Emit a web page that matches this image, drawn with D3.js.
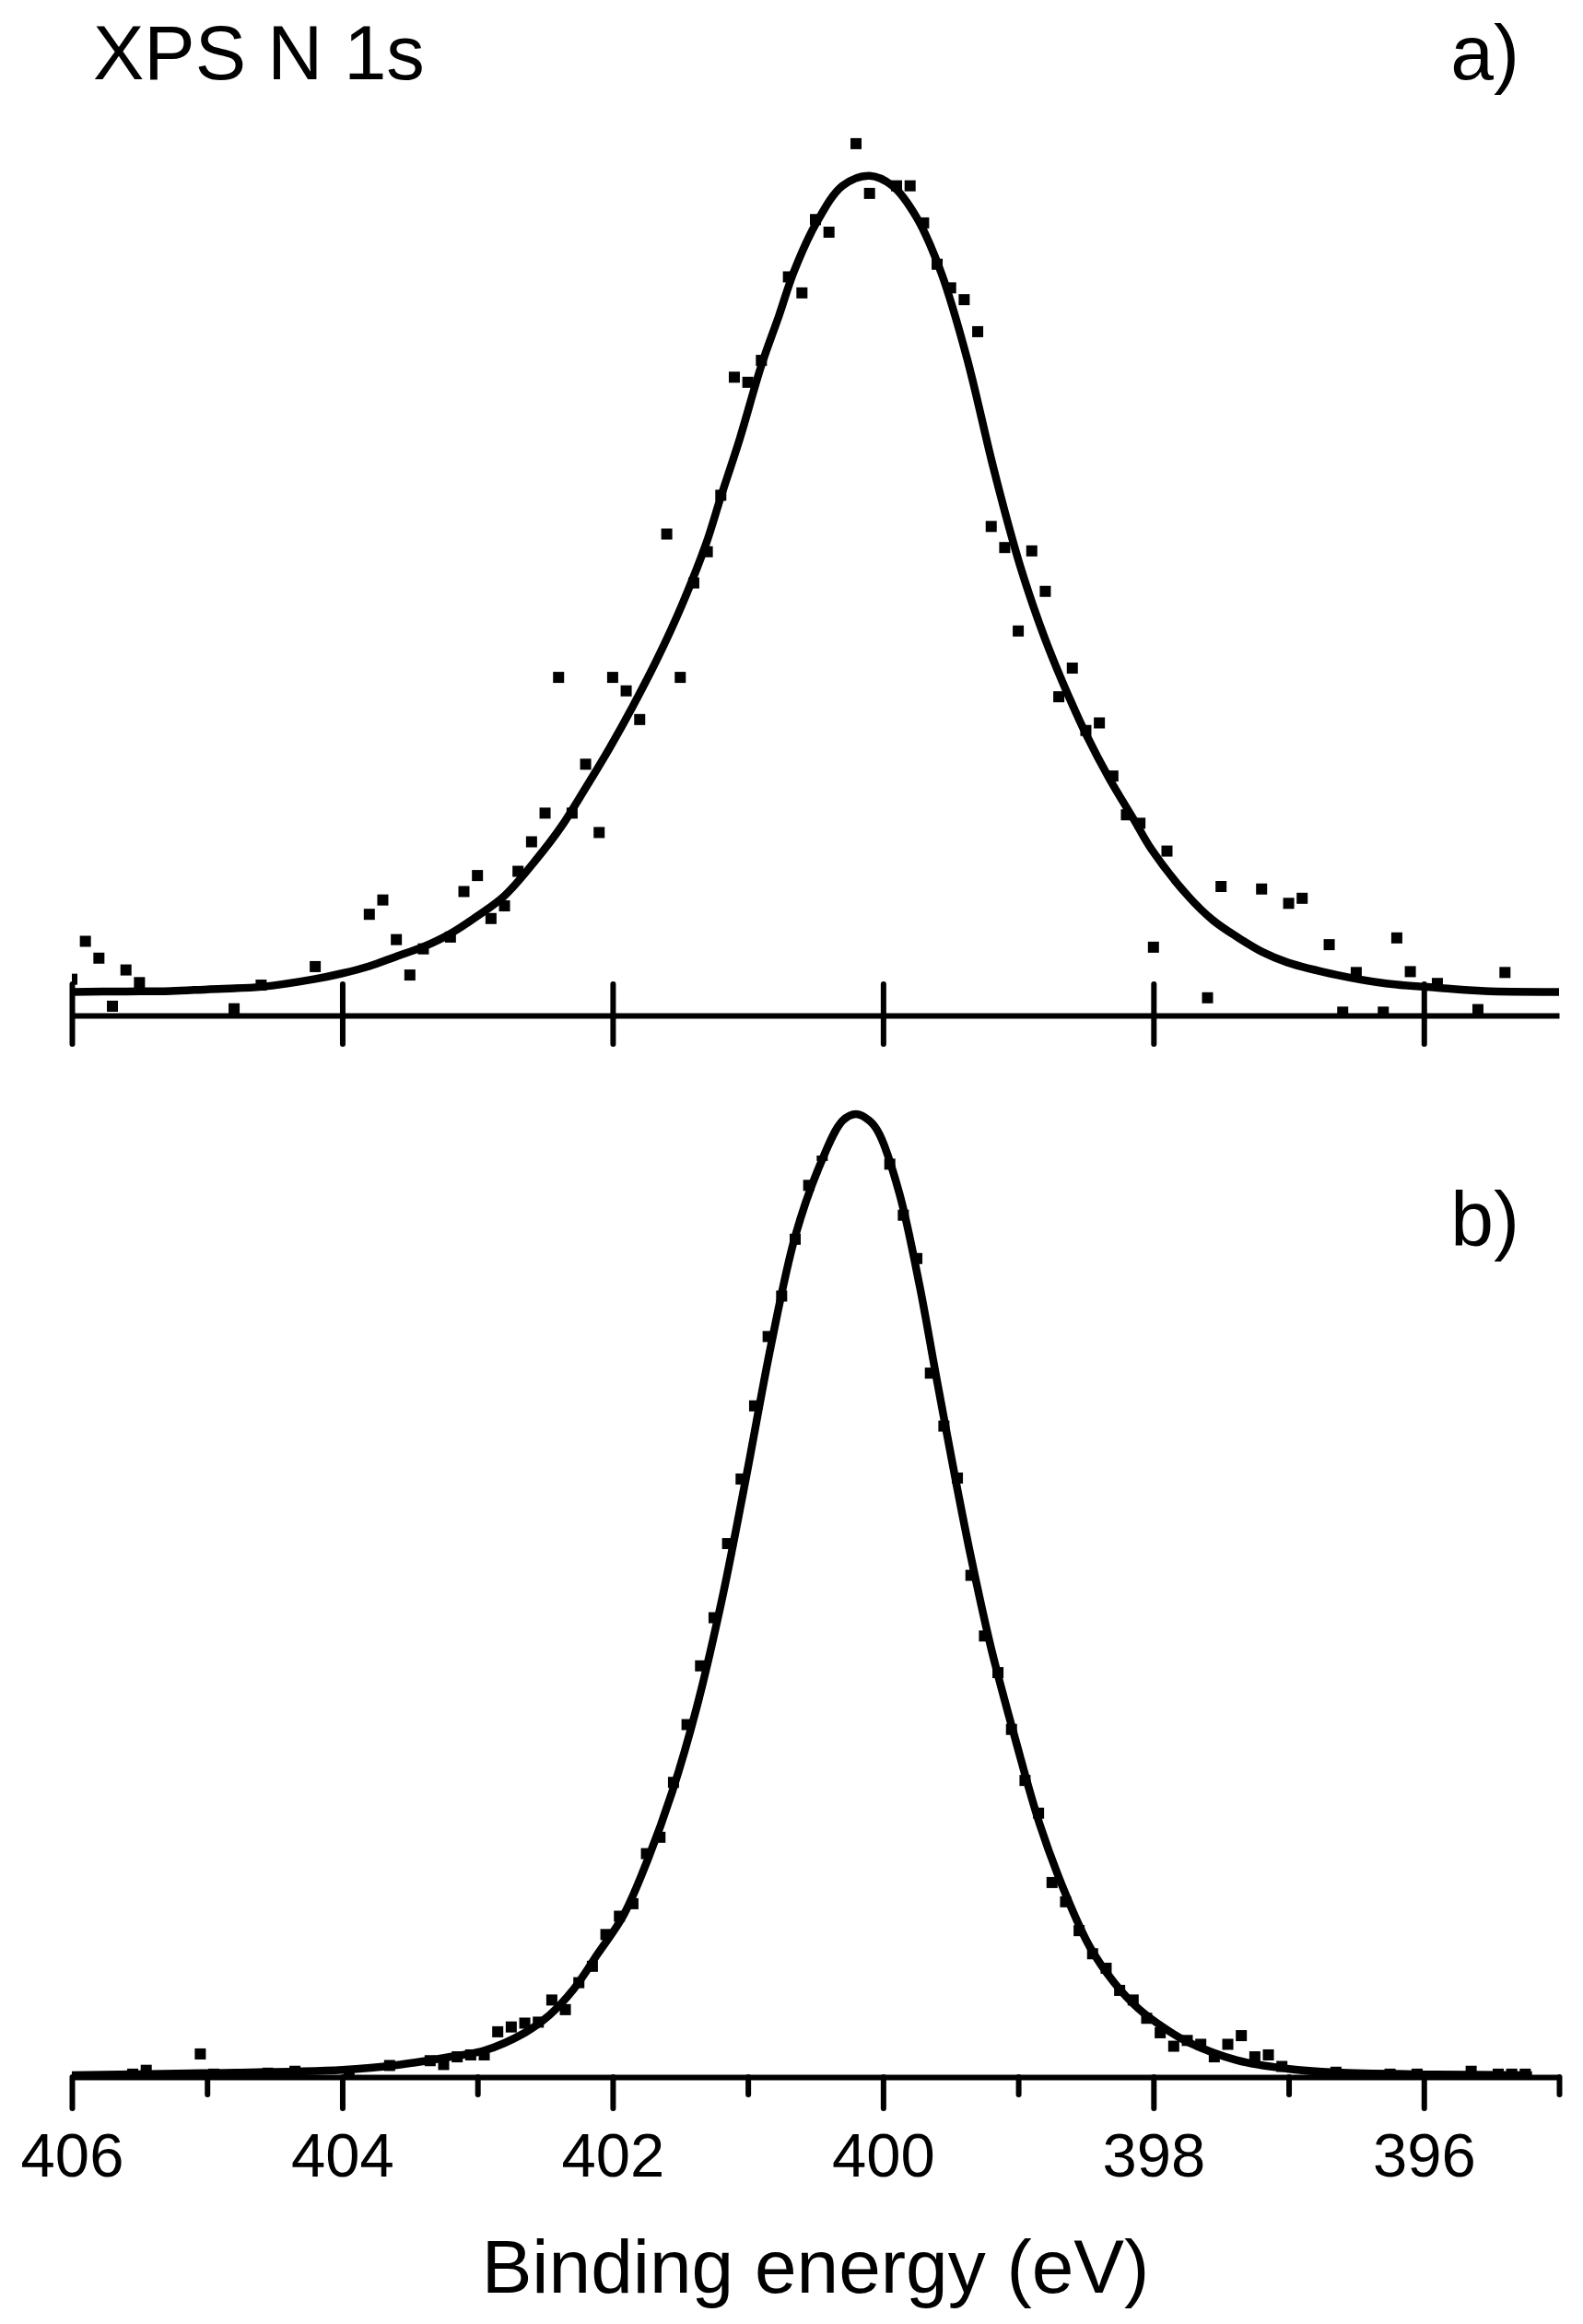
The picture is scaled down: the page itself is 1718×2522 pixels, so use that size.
<!DOCTYPE html>
<html>
<head>
<meta charset="utf-8">
<script src="https://cdn.jsdelivr.net/npm/d3@7"></script>
<style>
  body { margin: 0; background: #fff; }
  svg { display: block; }
  text { font-family: "Liberation Sans", Arial, Helvetica, sans-serif; fill: #000; }
</style>
</head>
<body>
<svg id="chart" width="1718" height="2522"></svg>
<script>
// binding energy (eV), intensity (arb. units, 100 = fitted peak)
const topPoints = [
  [406.0, 4.3], [405.9, 8.8], [405.8, 6.8], [405.7, 1.1], [405.6, 5.4], [405.5, 3.9],
  [404.8, 0.8], [404.6, 3.6], [404.2, 5.8], [403.8, 12.0], [403.7, 13.7], [403.6, 9.0],
  [403.5, 4.8], [403.4, 7.9], [403.2, 9.3], [403.1, 14.7], [403.0, 16.6], [402.9, 11.5],
  [402.8, 13.0], [402.7, 17.1], [402.6, 20.6], [402.5, 24.0], [402.4, 40.1], [402.3, 24.0],
  [402.2, 29.8], [402.1, 21.7], [402.0, 40.1], [401.9, 38.5], [401.8, 35.1], [401.6, 57.1],
  [401.5, 40.1], [401.4, 51.3], [401.3, 55.0], [401.2, 61.7], [401.1, 75.7], [401.0, 75.1],
  [400.9, 77.7], [400.7, 87.6], [400.6, 85.7], [400.5, 94.4], [400.4, 92.9], [400.2, 103.4],
  [400.1, 97.5], [399.9, 98.4], [399.8, 98.4], [399.7, 94.0], [399.6, 89.1], [399.5, 86.3],
  [399.4, 84.9], [399.3, 81.1], [399.2, 58.0], [399.1, 55.5], [399.0, 45.6], [398.9, 55.1],
  [398.8, 50.3], [398.7, 37.8], [398.6, 41.2], [398.5, 33.8], [398.4, 34.7], [398.3, 28.4],
  [398.2, 23.8], [398.1, 22.8], [398.0, 8.1], [397.9, 19.5], [397.6, 2.1], [397.5, 15.3],
  [397.2, 15.0], [397.0, 13.3], [396.9, 13.9], [396.7, 8.4], [396.6, 0.4], [396.5, 5.1],
  [396.3, 0.4], [396.2, 9.2], [396.1, 5.2], [395.9, 3.8], [395.6, 0.7], [395.4, 5.1]
];

const topFit = [
  [406.0, 2.8], [405.6, 2.85], [405.27, 2.9], [405.0, 3.1], [404.6, 3.4], [404.21, 4.3],
  [404.0, 5.0], [403.8, 5.85], [403.6, 7.0], [403.4, 8.15], [403.2, 9.7], [403.0, 11.8],
  [402.8, 14.2], [402.56, 18.6], [402.38, 22.4], [402.2, 27.0], [402.02, 31.8], [401.85, 36.7],
  [401.67, 42.3], [401.49, 48.6], [401.31, 55.9], [401.2, 61.5], [401.06, 68.4], [400.9, 77.1],
  [400.77, 83.0], [400.66, 88.2], [400.5, 93.8], [400.3, 98.4], [400.1, 99.6], [399.93, 98.4],
  [399.75, 94.6], [399.57, 88.1], [399.38, 78.0], [399.2, 66.0], [399.09, 59.2], [398.98, 53.0],
  [398.89, 48.6], [398.8, 44.6], [398.69, 40.2], [398.62, 37.6], [398.5, 33.4], [398.33, 28.2],
  [398.14, 23.1], [398.01, 19.6], [397.74, 14.1], [397.56, 11.3], [397.37, 9.2], [397.19, 7.5],
  [397.01, 6.3], [396.64, 4.8], [396.28, 3.8], [395.91, 3.3], [395.55, 2.9], [395.0, 2.8]
];

const bottomPoints = [
  [405.55, 0.3], [405.45, 0.7], [405.05, 2.4], [404.95, 0.3], [404.55, 0.4], [404.35, 0.6],
  [403.95, 0.5], [403.65, 1.2], [403.35, 1.7], [403.25, 1.3], [403.15, 2.1], [403.05, 2.3],
  [402.95, 2.3], [402.85, 4.7], [402.75, 5.2], [402.65, 5.6], [402.55, 5.7], [402.45, 8.0],
  [402.35, 7.0], [402.25, 9.8], [402.15, 11.5], [402.05, 14.8], [401.95, 16.7], [401.85, 18.0],
  [401.75, 23.2], [401.65, 24.9], [401.55, 30.6], [401.45, 36.6], [401.35, 42.7], [401.25, 47.7],
  [401.15, 55.4], [401.05, 62.1], [400.95, 69.7], [400.85, 76.9], [400.75, 81.1], [400.65, 87.0],
  [400.55, 92.6], [400.45, 95.7], [400.35, 97.7], [400.25, 100.5], [400.15, 99.7], [400.05, 97.9],
  [399.95, 94.8], [399.85, 89.5], [399.75, 85.0], [399.65, 73.1], [399.55, 67.6], [399.45, 62.2],
  [399.35, 52.1], [399.25, 45.8], [399.15, 42.0], [399.05, 36.1], [398.95, 30.8], [398.85, 27.4],
  [398.75, 20.2], [398.65, 18.2], [398.55, 15.2], [398.45, 12.8], [398.35, 11.3], [398.25, 9.0],
  [398.15, 8.0], [398.05, 6.1], [397.95, 4.6], [397.85, 3.2], [397.75, 3.8], [397.65, 3.4],
  [397.55, 2.1], [397.45, 3.4], [397.35, 4.3], [397.25, 2.1], [397.15, 2.3], [397.05, 1.1],
  [396.65, 0.5], [396.25, 0.3], [396.05, 0.3], [395.65, 0.6], [395.45, 0.3], [395.35, 0.3],
  [395.25, 0.3]
];

const bottomFit = [
  [406.0, 0.2], [405.03, 0.4], [404.0, 0.74], [403.57, 1.3], [403.2, 2.1], [402.95, 2.75],
  [402.65, 4.6], [402.47, 6.4], [402.29, 9.1], [402.11, 12.8], [401.92, 16.8], [401.74, 22.6],
  [401.56, 29.6], [401.38, 38.3], [401.19, 49.7], [401.01, 62.5], [400.83, 75.9], [400.65, 87.3],
  [400.47, 94.6], [400.3, 99.3], [400.2, 100.0], [400.1, 99.3], [400.03, 98.0], [399.88, 91.8],
  [399.73, 82.2], [399.61, 73.0], [399.47, 62.5], [399.35, 54.0], [399.2, 44.5], [399.02, 35.0],
  [398.84, 26.2], [398.65, 19.0], [398.47, 13.5], [398.29, 9.8], [398.11, 7.1], [397.92, 5.1],
  [397.74, 3.6], [397.38, 1.74], [397.01, 0.87], [396.65, 0.47], [395.92, 0.27], [395.2, 0.2]
];

const majorTicks = [406, 404, 402, 400, 398, 396];
const minorTicks = [405, 403, 401, 399, 397, 395];
const panelLabels = ["a)", "b)"];

const width = 1718, height = 2522;
const svg = d3.select("#chart");
svg.append("rect").attr("width", width).attr("height", height).attr("fill", "#fff");

const x = d3.scaleLinear().domain([406, 395]).range([78, 1692]);

const panels = [
  { axisY: 1102, y: d3.scaleLinear().domain([0, 100]).range([1102, 187]),
    points: topPoints, fit: topFit, label: panelLabels[0], labelY: 86 },
  { axisY: 2254, y: d3.scaleLinear().domain([0, 100]).range([2254, 1209]),
    points: bottomPoints, fit: bottomFit, label: panelLabels[1], labelY: 1352 }
];

panels.forEach((p, i) => {
  const clipId = "clip" + i;
  svg.append("clipPath").attr("id", clipId)
    .append("rect")
    .attr("x", x.range()[0]).attr("y", p.axisY - 1000)
    .attr("width", x.range()[1] - x.range()[0]).attr("height", 1000);

  // axis
  const axisG = svg.append("g").attr("transform", `translate(0,${p.axisY})`);
  if (i === 0) {
    axisG.call(d3.axisBottom(x).tickValues(majorTicks).tickSize(31).tickSizeOuter(0).tickFormat(""));
    axisG.selectAll(".tick line").attr("y1", -34);
  } else {
    axisG.call(d3.axisBottom(x).tickValues(majorTicks).tickSize(34).tickSizeOuter(0).tickFormat(d3.format("d")));
    axisG.selectAll(".tick text")
      .attr("y", 108).attr("dy", null)
      .style("font-size", "67px")
      .style("font-family", "\"Liberation Sans\", Arial, sans-serif");
    const minorG = svg.append("g").attr("transform", `translate(0,${p.axisY})`);
    minorG.call(d3.axisBottom(x).tickValues(minorTicks).tickSize(19).tickSizeOuter(0).tickFormat(""));
    minorG.select(".domain").remove();
    minorG.selectAll(".tick line").attr("stroke", "#000").attr("stroke-width", 6).attr("stroke-linecap", "round");
  }
  axisG.select(".domain").attr("stroke", "#000").attr("stroke-width", 6);
  axisG.selectAll(".tick line").attr("stroke", "#000").attr("stroke-width", 6).attr("stroke-linecap", "round");

  // data points
  svg.append("g").attr("clip-path", `url(#${clipId})`)
    .selectAll("rect").data(p.points).join("rect")
    .attr("x", d => x(d[0]) - 6).attr("y", d => p.y(d[1]) - 6)
    .attr("width", 12).attr("height", 12).attr("fill", "#000");

  // fitted curve
  const line = d3.line().x(d => x(d[0])).y(d => p.y(d[1])).curve(d3.curveCatmullRom.alpha(0.5));
  svg.append("path").datum(p.fit)
    .attr("d", line)
    .attr("fill", "none").attr("stroke", "#000")
    .attr("stroke-width", 8.5).attr("stroke-linejoin", "round");

  svg.append("text")
    .attr("x", 1649).attr("y", p.labelY)
    .attr("text-anchor", "end")
    .style("font-size", "84px")
    .text(p.label);
});

svg.append("text")
  .attr("x", 101).attr("y", 86)
  .style("font-size", "83px")
  .text("XPS N 1s");

svg.append("text")
  .attr("x", (x.range()[0] + x.range()[1]) / 2).attr("y", 2488)
  .attr("text-anchor", "middle")
  .style("font-size", "82px")
  .text("Binding energy (eV)");
</script>
</body>
</html>
